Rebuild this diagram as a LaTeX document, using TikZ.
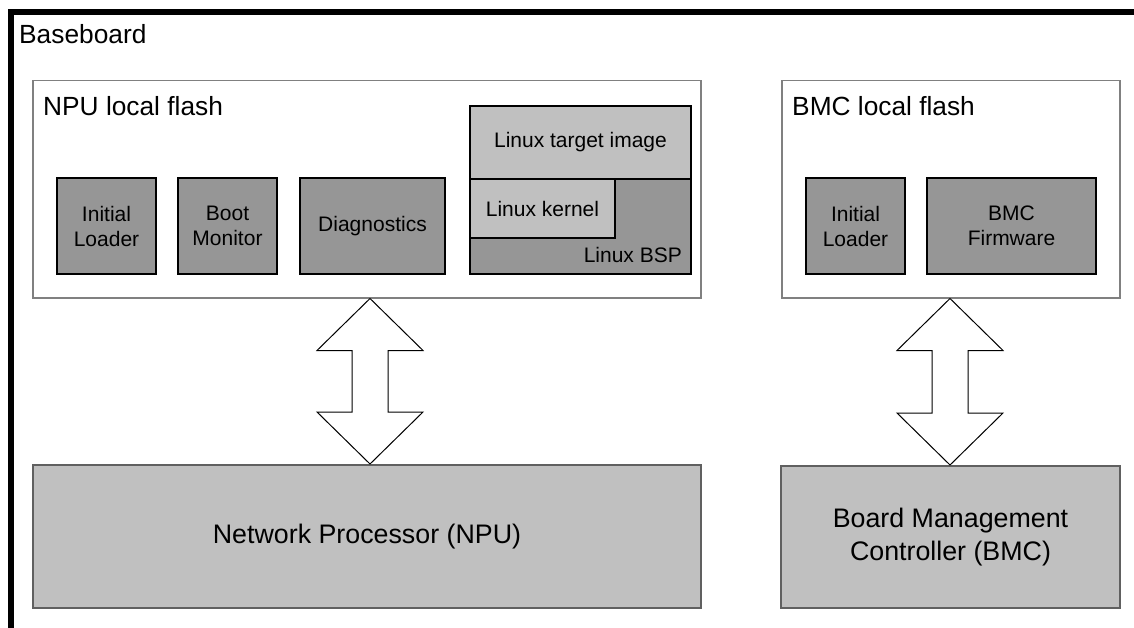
\documentclass[tikz,border=0pt]{standalone}
\usepackage{fontspec}
\setmainfont{Liberation Sans}
\usetikzlibrary{calc}
\definecolor{flashgray}{RGB}{128,128,128}
\definecolor{partgray}{RGB}{150,150,150}
\definecolor{chipgray}{RGB}{192,192,192}
\definecolor{chipedge}{RGB}{96,96,96}
\begin{document}
\begin{tikzpicture}[x=1pt,y=-1pt,
  flash/.style={draw=flashgray, line width=1.5pt, fill=white, anchor=north west, inner sep=0pt},
  part/.style={draw=black, line width=2pt, fill=partgray, anchor=north west, inner sep=0pt,
    align=center, font=\fontsize{21}{25}\selectfont},
  light/.style={part, fill=chipgray},
  chip/.style={draw=chipedge, line width=2pt, fill=chipgray, anchor=north west, inner sep=0pt,
    align=center, font=\fontsize{26.8}{33}\selectfont},
  title/.style={anchor=base west, inner sep=0pt, font=\fontsize{26.3}{30}\selectfont},
  duplex/.style={draw=black, line width=1pt, fill=white, line join=miter}]
\useasboundingbox (0,0) rectangle (1134,628);
\clip (0,0) rectangle (1134,628);

% baseboard frame (runs past the right and bottom edges)
\node[draw, line width=6pt, anchor=north west, minimum width=1200pt, minimum height=700pt,
  inner sep=0pt] (board) at (7.5,9) {};
\node[title] (boardlbl) at (19,44) {Baseboard};

% NPU flash and its contents
\node[flash, minimum width=668pt, minimum height=217pt] (nflash) at (32,80) {};
\node[title] (nflashlbl) at (43,116) {NPU local flash};
\node[part, minimum width=99pt, minimum height=96pt] (nload) at (56,177) {Initial\\Loader};
\node[part, minimum width=99pt, minimum height=96pt] (boot) at (177,177) {Boot\\Monitor};
\node[part, minimum width=145pt, minimum height=96pt] (diag) at (299,177) {Diagnostics};
\node[part, minimum width=221pt, minimum height=168pt] (bsp) at (469,105) {};
\node[light, minimum width=221pt, minimum height=73pt] (image) at (469,105) {Linux target image};
\node[light, minimum width=145pt, minimum height=59pt] (kernel) at (469,178) {Linux kernel};
\node[anchor=base east, inner sep=0pt, font=\fontsize{21}{25}\selectfont] (bsplbl) at (682,262) {Linux BSP};

% BMC flash and its contents
\node[flash, minimum width=338pt, minimum height=217pt] (bflash) at (781,80) {};
\node[title] (bflashlbl) at (792,116) {BMC local flash};
\node[part, minimum width=99pt, minimum height=96pt] (bload) at (805,177) {Initial\\Loader};
\node[part, minimum width=169pt, minimum height=96pt] (fw) at (926,177) {BMC\\Firmware};

% processors
\node[chip, minimum width=668pt, minimum height=143pt] (npu) at (32,464) {Network Processor (NPU)};
\node[chip, minimum width=339pt, minimum height=142pt] (bmc) at (780,465) {Board Management\\Controller (BMC)};

% bus arrows between flash and processor
\coordinate (npux) at (370,0);
\coordinate (bmcx) at (950,0);
\coordinate (t1) at (nflash.south -| npux);
\coordinate (b1) at (npu.north -| npux);
\coordinate (t2) at (bflash.south -| bmcx);
\coordinate (b2) at (bmc.north -| bmcx);
\draw[duplex] (t1) -- ++(53,52) -- ++(-35,0) -- ($(b1)+(18,-52)$) -- ++(35,0) -- (b1)
  -- ++(-53,-52) -- ++(35,0) -- ($(t1)+(-18,52)$) -- ++(-35,0) -- cycle;
\draw[duplex] (t2) -- ++(53,52) -- ++(-35,0) -- ($(b2)+(18,-52)$) -- ++(35,0) -- (b2)
  -- ++(-53,-52) -- ++(35,0) -- ($(t2)+(-18,52)$) -- ++(-35,0) -- cycle;
\end{tikzpicture}
\end{document}
